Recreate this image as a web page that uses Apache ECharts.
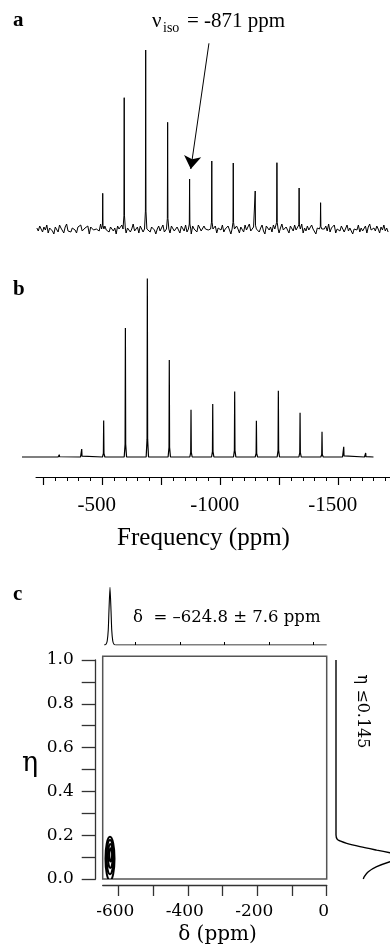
<!DOCTYPE html>
<html>
<head>
<meta charset="utf-8">
<script src="https://cdn.jsdelivr.net/npm/echarts@6/dist/echarts.min.js"></script>
<style>
html, body { margin: 0; padding: 0; background: #fff; }
#main { width: 390px; height: 949px; }
</style>
</head>
<body>
<div id="main"></div>
<script>
// panel a: experimental spectrum, sideband positions (ppm) and heights
var aPeakPpm = [-502, -593, -684, -777, -870, -964, -1055, -1148, -1240, -1334, -1425];
var aPeakHeight = [35.7, 131.3, 179, 106.7, 50, 68, 66, 38, 66.3, 41, 26.3];
// baseline noise, one value every 6 ppm starting at -223 ppm
var aNoiseStart = -223;
var aNoiseStep = -6;
var aNoise = [
    1, -2, 3, 0, -3, 2, -1, 4, -4, 1, 3, -2, -5, 2, 0, -3, 4, 1, -1, -4,
    2, 5, -2, 0, -3, 1, 3, -1, -4, 2, 0, 4, -2, -3, 1, -1, 3, -5, 2, 4,
    -1, -3, 0, 2, -2, 5, 1, -4, 3, -1, 0, -3, 2, 4, -2, 1, -5, 3, 0, -2,
    4, -1, 2, -4, 1, 3, -3, 0, 5, -2, -1, 2, -4, 3, 1, -3, 0, 4, -2, 1,
    -3, 2, 4, -1, -5, 0, 3, -2, 1, 4, -3, -1, 2, 0, -4, 3, 5, -2, -1, 2,
    0, -4, 3, 1, -2, 4, -3, 2, -1, -5, 3, 0, 2, -3, 4, 1, -2, -4, 3, 0,
    2, -1, -3, 5, 0, -2, 3, -4, 1, 2, -1, 4, -3, 0, -2, 3, 1, -5, 4, -1,
    -2, 3, 0, -4, 2, 1, -3, 4, -1, 0, 5, -2, -4, 2, -1, 3, 0, -3, 1, 4,
    -2, -5, 3, 1, -1, 2, -3, 4, 0, -2, 3, -4, 1, 5, -1, -3, 2, 0, -4, 3,
    1, -2, 4, -1, -3, 2, 0, 5, -4, 1, -2, 3, -1, -3, 4, 0, 2, -5, 1, 3,
    -1, -4, 2, 0, 3, -2, 5, -3, 1, -1, 4, -4, 0, 2, -2, 3, 1, -3, -1, 4,
    -2, 1, 3, -5, 0, 2, -1, 4, -3, 1, -2, 0, 3, -4, 2, 5, -1, -3, 1, -2,
    3, 0, -4, 2, -1, 4, -2, 1, -3
];

// panel b: simulated spectrum
var bPeakPpm = [-219, -318, -413, -506, -598, -691, -784, -876, -968, -1061, -1153, -1246, -1338, -1431, -1523, -1616];
var bPeakHeight = [1, 2.3, 8, 36.6, 129, 178.6, 97, 47.3, 53, 65.6, 36.3, 66.3, 44.3, 25.3, 10.3, 4];
var bBaseStart = -160;
var bBaseEnd = -1649;
var bMajorTicks = [-250, -500, -750, -1000, -1250, -1500];
var bTickLabels = [-500, -1000, -1500];

// panel c: delta / eta map
var cDeltaTicks = [-600, -500, -400, -300, -200, -100, 0];
var cDeltaLabels = [-600, -400, -200, 0];
var cEtaTicks = [0, 0.1, 0.2, 0.3, 0.4, 0.5, 0.6, 0.7, 0.8, 0.9, 1.0];
var cEtaLabels = [0, 0.2, 0.4, 0.6, 0.8, 1.0];
// contour levels: [delta centre, eta centre, delta half width, eta half height]
var contourLevels = [
    [-624, 0.093, 13, 0.1],
    [-624, 0.1, 10, 0.078],
    [-623, 0.105, 7, 0.055],
    [-622, 0.11, 4, 0.03]
];
// projection on delta (top)
var topProjDelta = [-641, -636, -632, -629, -627, -624, -621, -619, -616, -612, -606, 0];
var topProjI = [0, 0.5, 4, 15, 34, 57.7, 34, 15, 4, 0.5, 0, 0];
var topProjTicks = [-552, -423, -295, -166, -39];
// projection on eta (right)
var rightProjEta = [1.0, 0.21, 0.201, 0.181, 0.174, 0.163, 0.148, 0.132, 0.12, 0.11, 0.1, 0.09, 0.079, 0.056, 0.033, 0.011, 0];
var rightProjI = [0, 0, 0, 1.3, 4, 10.7, 24, 40.7, 54, 64, 68, 64, 54, 40.7, 32.3, 28.3, 27.3];

function spike(list, p, h) {
    list.push([p + 5, 0], [p + 1.2, h * 0.1], [p, h], [p - 1.2, h * 0.1], [p - 5, 0]);
}

var aData = [];
for (var i = 0; i < aNoise.length; i++) {
    var x = aNoiseStart + i * aNoiseStep;
    var near = aPeakPpm.some(function (p) { return Math.abs(x - p) < 6; });
    if (!near) aData.push([x, aNoise[i]]);
}
aPeakPpm.forEach(function (p, k) { spike(aData, p, aPeakHeight[k]); });
aData.sort(function (u, v) { return v[0] - u[0]; });

var bData = [[bBaseStart, 0], [bBaseEnd, 0]];
bPeakPpm.forEach(function (p, k) { spike(bData, p, bPeakHeight[k]); });
bData.sort(function (u, v) { return v[0] - u[0]; });

var bMinorTicks = [];
for (var t = -250; t >= -1700; t -= 50) bMinorTicks.push(t);

var topData = topProjDelta.map(function (d, k) { return [d, topProjI[k]]; });
var rightData = rightProjEta.map(function (e, k) { return [rightProjI[k], e]; });

var serif = '"Liberation Serif", "Times New Roman", serif';
var pal = '"DejaVu Serif", serif';
var ink = '#000';
var frameInk = '#555';

function hiddenX(grid, min, max, inverse) {
    return { type: 'value', gridIndex: grid, min: min, max: max, inverse: !!inverse, show: false };
}
function hiddenY(grid, min, max) {
    return { type: 'value', gridIndex: grid, min: min, max: max, show: false };
}
function plain(v) { return String(v); }

var myChart = echarts.init(document.getElementById('main'), null, { renderer: 'canvas' });

var option = {
    animation: false,
    backgroundColor: '#fff',
    textStyle: { fontFamily: serif, color: ink },
    grid: [
        { left: 22, right: 0, top: 29, height: 220, outerBoundsMode: 'none' },          // 0 spectrum a
        { left: 22, right: 0, top: 257, height: 220, outerBoundsMode: 'none' },         // 1 spectrum b
        { left: 36, right: 0, top: 257, height: 220, outerBoundsMode: 'none' },         // 2 ppm axis, major ticks
        { left: 36, right: 0, top: 257, height: 220, outerBoundsMode: 'none' },         // 3 ppm axis, minor ticks
        { left: 102.7, top: 660, width: 224, height: 219, outerBoundsMode: 'none' },    // 4 delta/eta map
        { left: 102.7, top: 656.3, width: 224, height: 222.7, outerBoundsMode: 'none',
          show: true, borderColor: frameInk, borderWidth: 1.5, backgroundColor: 'transparent' }, // 5 frame
        { left: 102.7, top: 585, width: 224, height: 60, outerBoundsMode: 'none' },     // 6 top projection
        { left: 336, right: 0, top: 660, height: 219, outerBoundsMode: 'none' }         // 7 right projection
    ],
    xAxis: [
        hiddenX(0, -1719, -160, true),
        hiddenX(1, -1719, -160, true),
        {
            type: 'value', gridIndex: 2, min: -1719, max: -219, inverse: true, position: 'bottom',
            axisLine: { onZero: false, lineStyle: { color: ink, width: 1 } },
            axisTick: { customValues: bMajorTicks, length: 8, lineStyle: { color: ink, width: 1.2 } },
            axisLabel: {
                customValues: bTickLabels, margin: 18, fontSize: 21, fontFamily: serif, color: ink,
                padding: [0, 11, 0, 0], formatter: plain
            },
            splitLine: { show: false }
        },
        {
            type: 'value', gridIndex: 3, min: -1719, max: -219, inverse: true, position: 'bottom',
            axisLine: { show: false, onZero: false },
            axisTick: { customValues: bMinorTicks, length: 4, lineStyle: { color: ink, width: 1 } },
            axisLabel: { show: false },
            splitLine: { show: false }
        },
        {
            type: 'value', gridIndex: 4, min: -645, max: 0, position: 'bottom', offset: 6,
            axisLine: { onZero: false, lineStyle: { color: '#333', width: 1.3 } },
            axisTick: { customValues: cDeltaTicks, length: 11, lineStyle: { color: '#333', width: 1.3 } },
            axisLabel: {
                customValues: cDeltaLabels, margin: 18, fontSize: 17, fontFamily: pal, color: ink,
                padding: [0, 6, 0, 0], formatter: plain
            },
            splitLine: { show: false }
        },
        hiddenX(5, 0, 1),
        {
            type: 'value', gridIndex: 6, min: -645, max: 0, position: 'bottom',
            axisLine: { show: false, onZero: false },
            axisTick: { customValues: topProjTicks, inside: true, length: 3, lineStyle: { color: ink, width: 1 } },
            axisLabel: { show: false },
            splitLine: { show: false }
        },
        hiddenX(7, 0, 54)
    ],
    yAxis: [
        hiddenY(0, -20, 200),
        hiddenY(1, -20, 200),
        hiddenY(2, 0, 1),
        hiddenY(3, 0, 1),
        {
            type: 'value', gridIndex: 4, min: 0, max: 1, position: 'left', offset: 7,
            axisLine: { onZero: false, lineStyle: { color: '#333', width: 1.3 } },
            axisTick: { customValues: cEtaTicks, length: 14, lineStyle: { color: '#333', width: 1.3 } },
            axisLabel: {
                customValues: cEtaLabels, margin: 22, fontSize: 17, fontFamily: pal, color: ink,
                formatter: function (v) { return v.toFixed(1); }
            },
            splitLine: { show: false }
        },
        hiddenY(5, 0, 1),
        hiddenY(6, 0, 60),
        hiddenY(7, 0, 1)
    ],
    series: [
        {
            name: 'experimental', type: 'line', xAxisIndex: 0, yAxisIndex: 0,
            data: aData, symbol: 'none', lineStyle: { color: ink, width: 1 },
            markLine: {
                silent: true,
                symbol: ['none', 'arrow'],
                symbolSize: 13,
                label: { show: false },
                lineStyle: { color: ink, width: 1, type: 'solid' },
                emphasis: { disabled: true },
                data: [[{ coord: [-952, 185.7] }, { coord: [-875, 60] }]]
            }
        },
        {
            name: 'simulated', type: 'line', xAxisIndex: 1, yAxisIndex: 1,
            data: bData, symbol: 'none', lineStyle: { color: ink, width: 1.2 }
        },
        {
            name: 'contours', type: 'custom', xAxisIndex: 4, yAxisIndex: 4, clip: true,
            data: contourLevels,
            encode: { x: 0, y: 1 },
            renderItem: function (params, api) {
                var c = api.coord([api.value(0), api.value(1)]);
                var s = api.size([api.value(2), api.value(3)]);
                return {
                    type: 'ellipse',
                    shape: { cx: c[0], cy: c[1], rx: s[0], ry: s[1] },
                    style: { fill: 'none', stroke: ink, lineWidth: 2 }
                };
            }
        },
        {
            name: 'delta projection', type: 'line', xAxisIndex: 6, yAxisIndex: 6,
            data: topData, symbol: 'none', smooth: 0.2, lineStyle: { color: ink, width: 1.1 }
        },
        {
            name: 'eta projection', type: 'line', xAxisIndex: 7, yAxisIndex: 7,
            data: rightData, symbol: 'none', smooth: 0.3, lineStyle: { color: ink, width: 1.4 }
        }
    ],
    graphic: [
        { type: 'text', x: 13, y: 21, style: { text: 'a', font: 'bold 21px ' + serif, fill: ink, textVerticalAlign: 'middle', verticalAlign: 'middle' } },
        { type: 'text', x: 152, y: 21.2, style: { text: 'ν', font: '21px ' + serif, fill: ink, textVerticalAlign: 'middle', verticalAlign: 'middle' } },
        { type: 'text', x: 163, y: 28.5, style: { text: 'iso', font: '14px ' + serif, fill: ink, textVerticalAlign: 'middle', verticalAlign: 'middle' } },
        { type: 'text', x: 187, y: 21.2, style: { text: '= -871 ppm', font: '21px ' + serif, fill: ink, textVerticalAlign: 'middle', verticalAlign: 'middle' } },
        { type: 'text', x: 13, y: 290, style: { text: 'b', font: 'bold 21px ' + serif, fill: ink, textVerticalAlign: 'middle', verticalAlign: 'middle' } },
        { type: 'text', x: 203.5, y: 538, style: { text: 'Frequency (ppm)', font: '25px ' + serif, fill: ink, textAlign: 'center', align: 'center', textVerticalAlign: 'middle', verticalAlign: 'middle' } },
        { type: 'text', x: 13, y: 595, style: { text: 'c', font: 'bold 21px ' + serif, fill: ink, textVerticalAlign: 'middle', verticalAlign: 'middle' } },
        { type: 'text', x: 133, y: 617.8, style: { text: 'δ  = –624.8 ± 7.6 ppm', font: '16.5px ' + pal, fill: ink, textVerticalAlign: 'middle', verticalAlign: 'middle' } },
        { type: 'text', x: 30, y: 764.3, style: { text: 'η', font: '27px ' + pal, fill: ink, textAlign: 'center', align: 'center', textVerticalAlign: 'middle', verticalAlign: 'middle' } },
        { type: 'text', x: 361.7, y: 711.5, rotation: -Math.PI / 2, style: { text: 'η ≤0.145', font: '16px ' + pal, fill: ink, textAlign: 'center', align: 'center', textVerticalAlign: 'middle', verticalAlign: 'middle' } },
        { type: 'text', x: 217.5, y: 934.6, style: { text: 'δ (ppm)', font: '20px ' + pal, fill: ink, textAlign: 'center', align: 'center', textVerticalAlign: 'middle', verticalAlign: 'middle' } }
    ]
};

myChart.setOption(option);
</script>
</body>
</html>
